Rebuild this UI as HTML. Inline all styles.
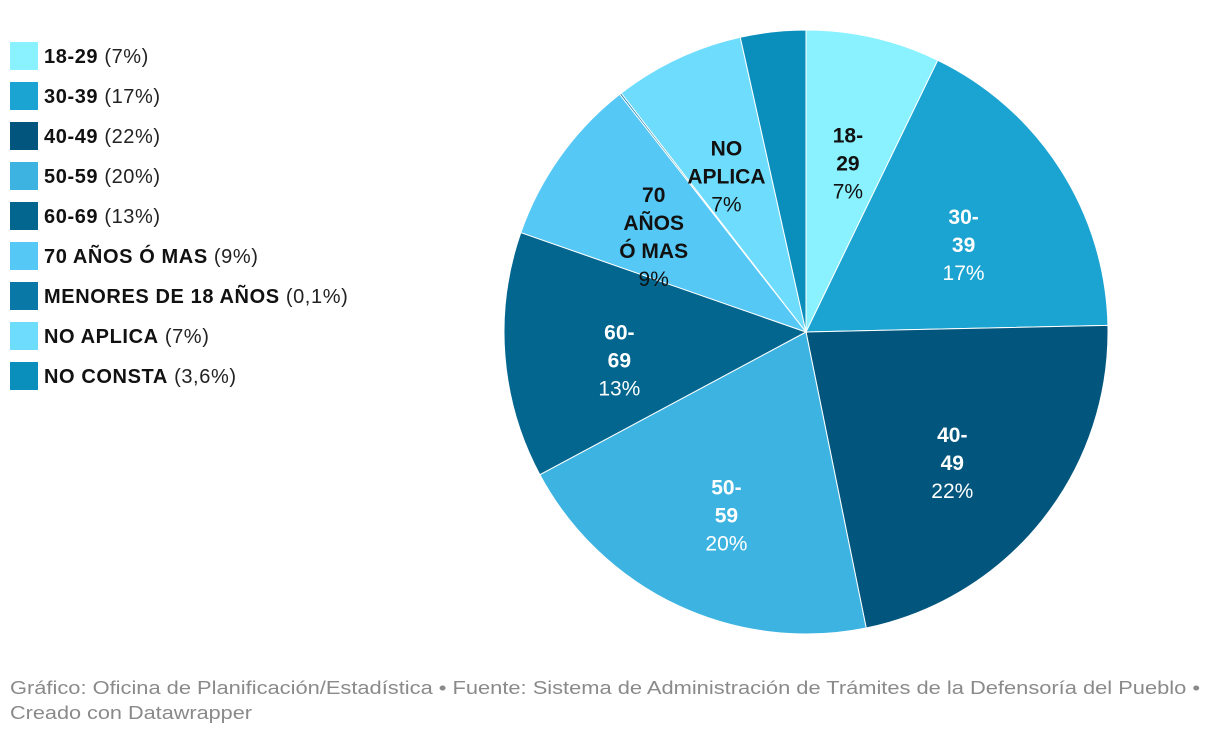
<!DOCTYPE html>
<html><head><meta charset="utf-8"><style>
body{margin:0;background:#fff;font-family:"Liberation Sans",sans-serif;}
svg{display:block}
</style></head><body>
<svg id="chart" width="1220" height="736">
<g id="legend"></g>
<g id="pie"></g>
<g id="labels"></g>
<text x="10" y="694" font-size="18" fill="#8a8a8a" textLength="1190" lengthAdjust="spacingAndGlyphs">Gráfico: Oficina de Planificación/Estadística • Fuente: Sistema de Administración de Trámites de la Defensoría del Pueblo •</text>
<text x="10" y="719" font-size="18" fill="#8a8a8a" textLength="242" lengthAdjust="spacingAndGlyphs">Creado con Datawrapper</text>
</svg>
<script>
const categories=["18-29","30-39","40-49","50-59","60-69","70 AÑOS Ó MAS","MENORES DE 18 AÑOS","NO APLICA","NO CONSTA"];
const values=[7.2,17.5,22.2,20.4,13.2,9.1,0.1,7.0,3.5];
const printed=["7%","17%","22%","20%","13%","9%","0,1%","7%","3,6%"];
const colors=["#8af2ff","#1ba3d1","#02557d","#3db3e1","#02668f","#56c8f5","#0a78a6","#6edcfc","#0a8fbd"];
const labelLines=[["18-","29"],["30-","39"],["40-","49"],["50-","59"],["60-","69"],["70","AÑOS","Ó MAS"],null,["NO","APLICA"],null];
const darkText=[true,false,false,false,false,true,false,true,false];
const NS="http://www.w3.org/2000/svg";
const cx=806,cy=332,R=302;
const total=values.reduce((a,b)=>a+b,0);
function pt(a,r){return [cx+r*Math.sin(a),cy-r*Math.cos(a)];}
const pie=document.getElementById('pie'),lab=document.getElementById('labels'),leg=document.getElementById('legend');
let acc=0;
values.forEach((v,i)=>{
  const a0=acc/total*2*Math.PI;acc+=v;const a1=acc/total*2*Math.PI;
  const p0=pt(a0,R),p1=pt(a1,R);
  const path=document.createElementNS(NS,'path');
  path.setAttribute('d',`M${cx},${cy}L${p0[0]},${p0[1]}A${R},${R} 0 ${a1-a0>Math.PI?1:0} 1 ${p1[0]},${p1[1]}Z`);
  path.setAttribute('fill',colors[i]);path.setAttribute('stroke','#fff');path.setAttribute('stroke-width','1');
  
  
  pie.appendChild(path);
  if(labelLines[i]){
    const lines=labelLines[i].concat([printed[i]]);
    const m=pt((a0+a1)/2,R*0.62);
    const n=lines.length,start=m[1]-(n-1)*28/2+21;
    lines.forEach((s,k)=>{
      const t=document.createElementNS(NS,'text');
      t.setAttribute('x',m[0]);t.setAttribute('y',start+k*28);
      t.setAttribute('text-anchor','middle');t.setAttribute('font-size','21');
      t.setAttribute('font-weight',k<n-1?'bold':'normal');
      t.setAttribute('fill',darkText[i]?'#111':'#fff');
      
      
      t.textContent=s;lab.appendChild(t);
    });
  }
  const y=42+i*40;
  const r=document.createElementNS(NS,'rect');
  r.setAttribute('x',10);r.setAttribute('y',y);r.setAttribute('width',28);r.setAttribute('height',28);r.setAttribute('fill',colors[i]);
  
  
  leg.appendChild(r);
  const t=document.createElementNS(NS,'text');
  t.setAttribute('x',44);t.setAttribute('y',y+21);t.setAttribute('font-size','20');t.setAttribute('fill','#222');
  t.setAttribute('letter-spacing','0.6');
  
  
  const b=document.createElementNS(NS,'tspan');b.setAttribute('font-weight','bold');b.setAttribute('fill','#111');b.textContent=categories[i];
  const p=document.createElementNS(NS,'tspan');p.textContent=' ('+printed[i]+')';
  t.appendChild(b);t.appendChild(p);leg.appendChild(t);
});
</script>
</body></html>
